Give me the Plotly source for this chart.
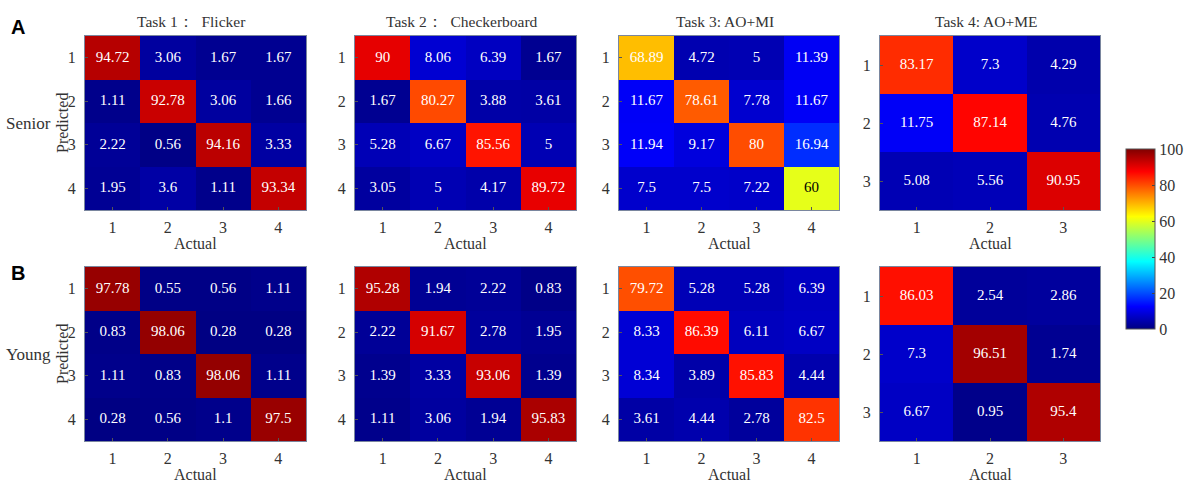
import plotly.graph_objects as go

# ---------------- data ----------------
task_titles = ["Task 1：  Flicker", "Task 2：  Checkerboard", "Task 3: AO+MI", "Task 4: AO+ME"]
group_labels = ["Senior", "Young"]
panel_letters = ["A", "B"]
class_labels4 = [1, 2, 3, 4]
class_labels3 = [1, 2, 3]

senior_flicker = [[94.72, 3.06, 1.67, 1.67],
                  [1.11, 92.78, 3.06, 1.66],
                  [2.22, 0.56, 94.16, 3.33],
                  [1.95, 3.6, 1.11, 93.34]]
senior_checker = [[90, 8.06, 6.39, 1.67],
                  [1.67, 80.27, 3.88, 3.61],
                  [5.28, 6.67, 85.56, 5],
                  [3.05, 5, 4.17, 89.72]]
senior_aomi = [[68.89, 4.72, 5, 11.39],
               [11.67, 78.61, 7.78, 11.67],
               [11.94, 9.17, 80, 16.94],
               [7.5, 7.5, 7.22, 60]]
senior_aome = [[83.17, 7.3, 4.29],
               [11.75, 87.14, 4.76],
               [5.08, 5.56, 90.95]]
young_flicker = [[97.78, 0.55, 0.56, 1.11],
                 [0.83, 98.06, 0.28, 0.28],
                 [1.11, 0.83, 98.06, 1.11],
                 [0.28, 0.56, 1.1, 97.5]]
young_checker = [[95.28, 1.94, 2.22, 0.83],
                 [2.22, 91.67, 2.78, 1.95],
                 [1.39, 3.33, 93.06, 1.39],
                 [1.11, 3.06, 1.94, 95.83]]
young_aomi = [[79.72, 5.28, 5.28, 6.39],
              [8.33, 86.39, 6.11, 6.67],
              [8.34, 3.89, 85.83, 4.44],
              [3.61, 4.44, 2.78, 82.5]]
young_aome = [[86.03, 2.54, 2.86],
              [7.3, 96.51, 1.74],
              [6.67, 0.95, 95.4]]

matrices = [[senior_flicker, senior_checker, senior_aomi, senior_aome],
            [young_flicker, young_checker, young_aomi, young_aome]]

# ---------------- style / layout ----------------
W, H = 1198, 484
FONT = "Liberation Serif, Times New Roman, serif"
TXT = "#333333"
jet = [[0.0, "rgb(0,0,128)"], [0.125, "rgb(0,0,255)"], [0.375, "rgb(0,255,255)"],
       [0.625, "rgb(255,255,0)"], [0.875, "rgb(255,0,0)"], [1.0, "rgb(128,0,0)"]]

col_px = [(85, 306), (355, 576), (619, 839), (880, 1100)]
row_px = [(36, 210), (267, 441)]


def px(x):
    return x / W


def py(y):
    return 1 - y / H


fig = go.Figure()
layout = dict(width=W, height=H, margin=dict(l=0, r=0, t=0, b=0),
              paper_bgcolor="white", plot_bgcolor="white",
              font=dict(family=FONT, size=15, color=TXT),
              showlegend=False,
              coloraxis=dict(colorscale=jet, cmin=0, cmax=100,
                             colorbar=dict(x=px(1126), xanchor="left", xpad=0,
                                           y=py(239), yanchor="middle", ypad=0,
                                           len=180 / H, lenmode="fraction",
                                           thickness=29, thicknessmode="pixels",
                                           outlinewidth=1, outlinecolor="#555555",
                                           tickvals=[0, 20, 40, 60, 80, 100],
                                           ticks="inside", ticklen=3, tickcolor="#444444",
                                           tickfont=dict(family=FONT, size=16, color=TXT))))
annotations = []

k = 0
for r in range(2):
    for c in range(4):
        k += 1
        z = matrices[r][c]
        n = len(z)
        labels = class_labels4 if n == 4 else class_labels3
        xa = "x" if k == 1 else f"x{k}"
        ya = "y" if k == 1 else f"y{k}"
        fig.add_trace(go.Heatmap(z=z, x=labels, y=labels, coloraxis="coloraxis",
                                 xaxis=xa, yaxis=ya, hoverinfo="z", xgap=0, ygap=0))
        xs, ys, ts, cs = [], [], [], []
        for i in range(n):
            for j in range(n):
                v = z[i][j]
                xs.append(labels[j])
                ys.append(labels[i])
                ts.append(f"{v:g}")
                cs.append("black" if 50 < v < 65 else "white")
        fig.add_trace(go.Scatter(x=xs, y=ys, text=ts, mode="text",
                                 textfont=dict(family=FONT, size=15, color=cs),
                                 xaxis=xa, yaxis=ya, hoverinfo="skip"))
        x0, x1 = col_px[c]
        y0, y1 = row_px[r]
        axis_common = dict(showline=True, mirror=True, linecolor="#7a869e", linewidth=1,
                           showgrid=False, zeroline=False, ticks="inside", ticklen=3,
                           tickcolor="#555555", tickvals=labels,
                           tickfont=dict(family=FONT, size=16, color=TXT))
        layout["xaxis" if k == 1 else f"xaxis{k}"] = dict(
            domain=[px(x0), px(x1)], anchor=ya, range=[0.5, n + 0.5],
            ticklabelstandoff=3, **axis_common)
        layout["yaxis" if k == 1 else f"yaxis{k}"] = dict(
            domain=[py(y1), py(y0)], anchor=xa, range=[n + 0.5, 0.5],
            ticklabelstandoff=5, **axis_common)
        cx = (x0 + x1) / 2
        annotations.append(dict(text="Actual", x=px(cx), y=py(y1 + 33), xref="paper", yref="paper",
                                showarrow=False, xanchor="center", yanchor="middle",
                                font=dict(family=FONT, size=16, color=TXT)))
        if r == 0:
            annotations.append(dict(text=task_titles[c], x=px(cx - 4), y=py(21), xref="paper",
                                    yref="paper", showarrow=False, xanchor="center",
                                    yanchor="middle",
                                    font=dict(family=FONT, size=15.5, color=TXT)))
    y0, y1 = row_px[r]
    cy = (y0 + y1) / 2
    annotations.append(dict(text="Predicted", x=px(62), y=py(cy), xref="paper", yref="paper",
                            showarrow=False, textangle=-90, xanchor="center", yanchor="middle",
                            font=dict(family=FONT, size=16, color=TXT)))
    annotations.append(dict(text=group_labels[r], x=px(28), y=py(cy), xref="paper", yref="paper",
                            showarrow=False, xanchor="center", yanchor="middle",
                            font=dict(family=FONT, size=17, color=TXT)))
    annotations.append(dict(text=f"<b>{panel_letters[r]}</b>", x=px(18), y=py(y0 - 9 if r == 0 else y0 + 6),
                            xref="paper", yref="paper", showarrow=False,
                            xanchor="center", yanchor="middle",
                            font=dict(family="Liberation Sans, Arial, sans-serif", size=20,
                                      color="black")))

layout["annotations"] = annotations
fig.update_layout(**layout)
fig.write_html("out.html", config={"displayModeBar": False},
               post_script="document.body.style.margin='0';document.body.style.padding='0';")
